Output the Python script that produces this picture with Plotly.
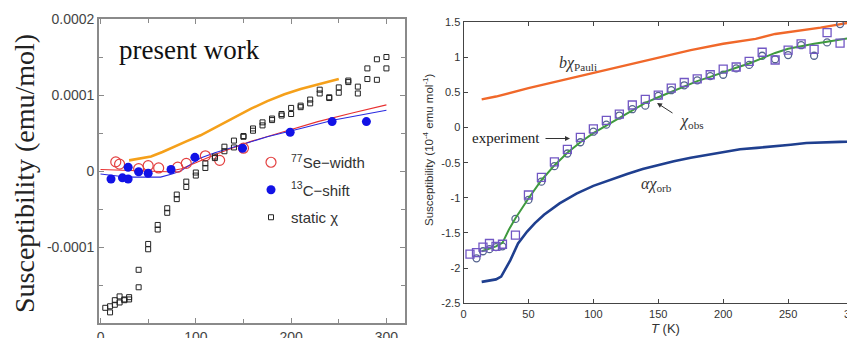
import plotly.graph_objects as go
import numpy as np

# ---------------- data (susceptibility in units of 1e-4 emu/mol) ----------------
# experiment / static chi : two measurement series
exp_sq_T = [5, 10, 15, 20, 25, 30, 40, 50, 60, 70, 80, 90, 100, 110, 120, 130, 140, 150, 160,
            170, 180, 190, 200, 210, 220, 230, 240, 250, 260, 270, 280, 290, 300]
exp_sq_chi = [-1.80, -1.78, -1.70, -1.65, -1.69, -1.66, -1.53, -0.96, -0.71, -0.49, -0.31, -0.14,
              -0.02, 0.10, 0.19, 0.32, 0.40, 0.46, 0.56, 0.64, 0.69, 0.75, 0.83, 0.86, 0.94, 1.07,
              0.96, 1.10, 1.19, 1.11, 1.35, 1.20, 1.35]
exp_ci_T = [10, 15, 20, 25, 30, 40, 50, 60, 70, 80, 90, 100, 110, 120, 130, 140, 150, 160,
            170, 180, 190, 200, 210, 220, 230, 240, 250, 260, 270, 280, 290, 300]
exp_ci_chi = [-1.86, -1.76, -1.73, -1.70, -1.69, -1.30, -1.03, -0.77, -0.55, -0.37, -0.21, -0.06,
              0.04, 0.17, 0.26, 0.31, 0.45, 0.53, 0.60, 0.67, 0.73, 0.75, 0.84, 0.89, 1.02, 0.97,
              1.03, 1.17, 1.02, 1.21, 1.47, 1.50]

# right panel model curves
obs_T = [14, 20, 25, 30, 35, 40, 50, 60, 70, 80, 90, 100, 110, 120, 130, 140, 150, 160, 170, 180,
         190, 200, 210, 220, 230, 240, 250, 260, 270, 280, 290, 300]
obs_chi = [-1.76, -1.72, -1.69, -1.64, -1.45, -1.29, -1.01, -0.75, -0.54, -0.36, -0.21, -0.08, 0.03,
           0.14, 0.25, 0.35, 0.43, 0.51, 0.59, 0.66, 0.72, 0.79, 0.85, 0.91, 0.99, 1.06, 1.12, 1.16,
           1.19, 1.22, 1.25, 1.28]
pauli_T = [14, 25, 50, 75, 100, 125, 150, 175, 200, 225, 240, 260, 275, 300]
pauli_chi = [0.40, 0.44, 0.56, 0.67, 0.78, 0.89, 1.00, 1.10, 1.19, 1.26, 1.33, 1.38, 1.42, 1.50]
orb_T = [14, 20, 25, 29, 33, 36, 42, 49, 55, 62, 74, 87, 100, 113, 126, 138, 150, 162, 175, 187,
         200, 213, 226, 239, 252, 264, 275, 290, 300]
orb_chi = [-2.195, -2.18, -2.16, -2.12, -1.98, -1.89, -1.65, -1.48, -1.36, -1.24, -1.08, -0.94, -0.83,
           -0.74, -0.66, -0.59, -0.53, -0.48, -0.43, -0.39, -0.35, -0.31, -0.29, -0.27, -0.245, -0.22,
           -0.21, -0.205, -0.20]

# left panel
se_T = [16, 20, 40, 50, 61, 81, 90, 110, 125, 150]
se_chi = [0.12, 0.09, 0.03, 0.07, 0.04, 0.05, 0.10, 0.20, 0.14, 0.30]
c13_T = [11, 23, 29, 29, 40, 50, 74, 99, 149, 199, 243, 279]
c13_chi = [-0.105, -0.09, -0.105, 0.05, -0.01, -0.03, 0.02, 0.18, 0.30, 0.51, 0.65, 0.65]
orange_T = [30, 40, 53, 65, 77, 90, 105, 120, 140, 158, 175, 193, 210, 230, 250]
orange_chi = [0.14, 0.16, 0.19, 0.25, 0.32, 0.39, 0.47, 0.57, 0.71, 0.82, 0.92, 1.01, 1.08, 1.15, 1.21]
red_T = [0, 20, 35, 55, 70, 85, 100, 123, 140, 158, 193, 228, 263, 300]
red_chi = [0.02, 0.01, 0.0, -0.01, -0.01, 0.03, 0.11, 0.23, 0.31, 0.39, 0.52, 0.65, 0.76, 0.87]
blue_T = [0, 20, 35, 63, 75, 84, 95, 105, 120, 140, 175, 210, 245, 300]
blue_chi = [-0.04, -0.07, -0.08, -0.08, -0.04, 0.0, 0.09, 0.17, 0.24, 0.32, 0.45, 0.56, 0.67, 0.80]

UNIT = 1e-4
left_yticks = [-0.0001, 0, 0.0001, 0.0002]
left_yticktext = ["-0.0001", "0", "0.0001", "0.0002"]
left_xticks = [0, 100, 200, 300]
right_xticks = [0, 50, 100, 150, 200, 250, 300]
right_yticks = [-2.5, -2, -1.5, -1, -0.5, 0, 0.5, 1, 1.5]
right_yticktext = ["-2.5", "-2", "-1.5", "-1", "-0.5", "0", "0.5", "1", "1.5"]

W, H = 855, 338
OX, OY = 8, 8   # page body margin offset

def px(x):
    return (x - OX) / W
def py(y):
    return 1 - (y - OY) / H

SANS = "Liberation Sans"
SERIF = "Liberation Serif"

fig = go.Figure()

# ---------- left panel ----------
sc = lambda v: list(np.array(v) * UNIT)
fig.add_trace(go.Scatter(x=orange_T, y=sc(orange_chi), mode="lines", line=dict(color="#f5a01a", width=2.6),
                         showlegend=False, xaxis="x", yaxis="y"))
fig.add_trace(go.Scatter(x=red_T, y=sc(red_chi), mode="lines", line=dict(color="#e83030", width=1.1),
                         showlegend=False, xaxis="x", yaxis="y"))
fig.add_trace(go.Scatter(x=blue_T, y=sc(blue_chi), mode="lines", line=dict(color="#2a2ae0", width=1.1),
                         showlegend=False, xaxis="x", yaxis="y"))
fig.add_trace(go.Scatter(x=se_T, y=sc(se_chi), mode="markers", name="<sup>77</sup>Se\u2212width",
                         marker=dict(symbol="circle-open", size=10, color="#e34040", line=dict(width=1.2)),
                         legendgroup="a", xaxis="x", yaxis="y"))
fig.add_trace(go.Scatter(x=c13_T, y=sc(c13_chi), mode="markers", name="<sup>13</sup>C\u2212shift",
                         marker=dict(symbol="circle", size=9, color="#1212e6"),
                         legendgroup="b", xaxis="x", yaxis="y"))
fig.add_trace(go.Scatter(x=exp_sq_T + exp_ci_T, y=sc(exp_sq_chi + exp_ci_chi), mode="markers",
                         name="static \u03c7",
                         marker=dict(symbol="square-open", size=5, color="#222222", line=dict(width=1)),
                         legendgroup="c", xaxis="x", yaxis="y"))

# ---------- right panel ----------
fig.add_trace(go.Scatter(x=pauli_T, y=pauli_chi, mode="lines", line=dict(color="#f0682a", width=2.4),
                         showlegend=False, xaxis="x2", yaxis="y2"))
fig.add_trace(go.Scatter(x=orb_T, y=orb_chi, mode="lines", line=dict(color="#1f3f8f", width=2.6),
                         showlegend=False, xaxis="x2", yaxis="y2"))
fig.add_trace(go.Scatter(x=exp_ci_T, y=exp_ci_chi, mode="markers",
                         marker=dict(symbol="circle-open", size=7, color="#55648f", line=dict(width=1.3)),
                         showlegend=False, xaxis="x2", yaxis="y2"))
fig.add_trace(go.Scatter(x=obs_T, y=obs_chi, mode="lines", line=dict(color="#3f9a3f", width=2),
                         showlegend=False, xaxis="x2", yaxis="y2"))
fig.add_trace(go.Scatter(x=exp_sq_T, y=exp_sq_chi, mode="markers",
                         marker=dict(symbol="square-open", size=8, color="#7257c4", line=dict(width=1.3)),
                         showlegend=False, xaxis="x2", yaxis="y2"))

axis_common = dict(showgrid=False, zeroline=False, ticks="inside", mirror="ticks", showline=True,
                   automargin=False)

fig.update_layout(
    width=W, height=H,
    margin=dict(l=0, r=0, t=0, b=0, autoexpand=False),
    paper_bgcolor="white", plot_bgcolor="white",
    xaxis=dict(domain=[px(99), px(405)], range=[-1.6, 319.5], tickvals=left_xticks,
               linecolor="#8a8a8a", linewidth=1.6, tickcolor="#8a8a8a", ticklen=5, tickwidth=1.2,
               tickfont=dict(family=SANS, size=14, color="#444"),
               minor=dict(dtick=50, ticks="inside", ticklen=4, tickcolor="#8a8a8a"),
               anchor="y", **axis_common),
    yaxis=dict(domain=[py(323), py(19)], range=[-0.0002, 0.0002], tickvals=left_yticks,
               ticktext=left_yticktext,
               linecolor="#8a8a8a", linewidth=1.6, tickcolor="#8a8a8a", ticklen=5, tickwidth=1.2,
               tickfont=dict(family=SANS, size=14, color="#444"),
               minor=dict(dtick=0.00005, ticks="inside", ticklen=4, tickcolor="#8a8a8a"),
               anchor="x", **axis_common),
    xaxis2=dict(domain=[px(463.5), px(855)], range=[0, 301.5], tickvals=right_xticks,
                linecolor="#444", linewidth=1, tickcolor="#444", ticklen=4,
                tickfont=dict(family=SANS, size=11, color="#333"),
                anchor="y2", **axis_common),
    yaxis2=dict(domain=[py(303.3), py(22)], range=[-2.5, 1.5], tickvals=right_yticks,
                ticktext=right_yticktext,
                linecolor="#444", linewidth=1, tickcolor="#444", ticklen=4,
                tickfont=dict(family=SANS, size=11, color="#333"),
                anchor="x2", **axis_common),
    legend=dict(x=px(251), y=py(146), xanchor="left", yanchor="top",
                bgcolor="rgba(0,0,0,0)", font=dict(family=SANS, size=15, color="#333"),
                tracegroupgap=5, itemsizing="trace"),
    showlegend=True,
)

# ---------- text ----------
ann = []
ann.append(dict(text="Susceptibility (emu/mol)", x=px(24), y=py(174), textangle=-90, xanchor="center",
                font=dict(family=SERIF, size=28, color="#222")))
ann.append(dict(text="present work", x=px(117), y=py(50), xanchor="left",
                font=dict(family=SERIF, size=27, color="#111")))
ann.append(dict(text="Susceptibility (10<sup>-4</sup> emu mol<sup>-1</sup>)", x=px(428), y=py(150),
                textangle=-90, xanchor="center", font=dict(family=SANS, size=11.5, color="#333")))
ann.append(dict(text="<i>T</i> (K)", x=px(665), y=py(328), xanchor="center",
                font=dict(family=SANS, size=13, color="#333")))
ann.append(dict(text="<i>b\u03c7</i><sub>Pauli</sub>", x=px(557), y=py(64), xanchor="left",
                font=dict(family=SERIF, size=16, color="#333")))
ann.append(dict(text="<i>\u03c7</i><sub>obs</sub>", x=px(677), y=py(122), xanchor="left",
                font=dict(family=SERIF, size=16, color="#333")))
ann.append(dict(text="<i>\u03b1\u03c7</i><sub>orb</sub>", x=px(639), y=py(184), xanchor="left",
                font=dict(family=SERIF, size=16, color="#333")))
ann.append(dict(text="experiment", x=px(470), y=py(138), xanchor="left",
                font=dict(family=SERIF, size=15, color="#222")))
for a in ann:
    a.update(xref="paper", yref="paper", showarrow=False, yanchor="middle")

# arrows (tail offsets in pixels)
ann.append(dict(x=px(570), y=py(138.5), ax=-26, ay=0, xref="paper", yref="paper",
                axref="pixel", ayref="pixel", showarrow=True, arrowhead=2, arrowsize=1,
                arrowwidth=1, arrowcolor="#333", text=""))
ann.append(dict(x=px(657), y=py(103), ax=17, ay=11, xref="paper", yref="paper",
                axref="pixel", ayref="pixel", showarrow=True, arrowhead=2, arrowsize=1,
                arrowwidth=1, arrowcolor="#333", text=""))
fig.update_layout(annotations=ann)

fig.write_html("out.html")
